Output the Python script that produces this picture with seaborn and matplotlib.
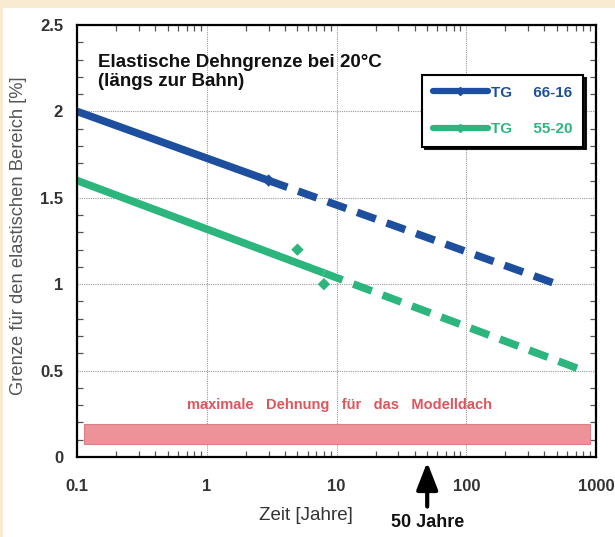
import matplotlib
matplotlib.use("Agg")
import matplotlib.pyplot as plt
import numpy as np
import pandas as pd
import seaborn as sns
from matplotlib.lines import Line2D
from matplotlib.patches import Rectangle
from matplotlib.ticker import FixedLocator, LogLocator, MultipleLocator, NullFormatter

# Values
tg66_solid_time = [0.1, 3]
tg66_solid_val = [2.0, 1.6]
tg66_dash_time = [3, 500]
tg66_dash_val = [1.6, 1.0]
tg66_mark_time = [3]
tg66_mark_val = [1.6]

tg55_solid_time = [0.1, 8]
tg55_solid_val = [1.6, 1.065]
tg55_dash_time = [8, 800]
tg55_dash_val = [1.065, 0.5]
tg55_mark_time = [5, 8]
tg55_mark_val = [1.2, 1.0]

band_time = [0.113, 900]
band_low = 0.075
band_high = 0.19

x_ticks = [0.1, 1, 10, 100, 1000]
x_tick_labels = ["0.1", "1", "10", "100", "1000"]
y_ticks = [0, 0.5, 1, 1.5, 2, 2.5]
y_tick_labels = ["0", "0.5", "1", "1.5", "2", "2.5"]

blue = "#1d4f9e"
green = "#2cb67d"
red_txt = "#e0545c"

sns.set_style("ticks")
plt.rcParams["font.family"] = ["Liberation Sans", "DejaVu Sans"]

fig = plt.figure(figsize=(6.15, 5.37), dpi=100, facecolor="#f8ebd2")
fig.patches.append(Rectangle((3 / 615, 0), 1, 1 - 8 / 537, transform=fig.transFigure,
                             facecolor="white", edgecolor="none", zorder=-10))
ax = fig.add_axes([77 / 615, 80 / 537, 519 / 615, 432 / 537])
ax.set_facecolor("white")

def seg(t, v):
    return pd.DataFrame({"Zeit": t, "Wert": v})

lw = 5.5
dash = (0, (2.6, 1.5))
sns.lineplot(data=seg(tg66_solid_time, tg66_solid_val), x="Zeit", y="Wert", color=blue,
             lw=lw, solid_capstyle="butt", ax=ax, zorder=4)
sns.lineplot(data=seg(tg66_dash_time, tg66_dash_val), x="Zeit", y="Wert", color=blue,
             lw=lw, linestyle=dash, ax=ax, zorder=4)
sns.lineplot(data=seg(tg55_solid_time, tg55_solid_val), x="Zeit", y="Wert", color=green,
             lw=lw, solid_capstyle="butt", ax=ax, zorder=4)
sns.lineplot(data=seg(tg55_dash_time, tg55_dash_val), x="Zeit", y="Wert", color=green,
             lw=lw, linestyle=dash, ax=ax, zorder=4)
sns.scatterplot(data=seg(tg66_mark_time, tg66_mark_val), x="Zeit", y="Wert", color=blue,
                marker="D", s=40, edgecolor="none", ax=ax, zorder=5)
sns.scatterplot(data=seg(tg55_mark_time, tg55_mark_val), x="Zeit", y="Wert", color=green,
                marker="D", s=40, edgecolor="none", ax=ax, zorder=5)

# band of maximum strain for the model roof
ax.fill_between(band_time, band_low, band_high, color="#ec9298", edgecolor="#d98088",
                lw=0.8, zorder=3)
ax.text(10.5, 0.30, "maximale   Dehnung   für   das   Modelldach", ha="center",
        va="center", color=red_txt, fontsize=10.5, fontweight="bold", zorder=6)

ax.text(0.040, 0.932, "Elastische Dehngrenze bei 20°C\n(längs zur Bahn)",
        transform=ax.transAxes, ha="left", va="top", fontsize=13.5,
        fontweight="bold", linespacing=1.12, color="#111111")

ax.set_xscale("log")
ax.set_xlim(0.1, 1000)
ax.set_ylim(0, 2.5)
ax.xaxis.set_major_locator(FixedLocator(x_ticks))
ax.set_xticklabels(x_tick_labels, fontsize=12, fontweight="bold", color="#333333")
ax.xaxis.set_minor_locator(LogLocator(base=10, subs=np.arange(2, 10)))
ax.xaxis.set_minor_formatter(NullFormatter())
ax.set_yticks(y_ticks)
ax.set_yticklabels(y_tick_labels, fontsize=12, fontweight="bold", color="#333333")
ax.yaxis.set_minor_locator(MultipleLocator(0.1))

ax.tick_params(which="major", length=0)
ax.tick_params(axis="y", which="major", pad=10)
ax.tick_params(axis="x", which="major", pad=16)
ax.tick_params(which="minor", direction="in", length=4, width=0.9, color="#555555",
               top=True, right=True)

ax.grid(which="major", color="#9a9a9a", lw=0.8, ls=(0, (1, 1)))
ax.grid(which="minor", visible=False)
for sp in ax.spines.values():
    sp.set_visible(True)
    sp.set_linewidth(1.6)
    sp.set_color("black")
    sp.set_zorder(7)

ax.set_xlabel("Zeit [Jahre]", fontsize=13.5, color="#333333")
ax.xaxis.set_label_coords(0.441, -0.116)
ax.set_ylabel("Grenze für den elastischen Bereich [%]", fontsize=13.2, color="#555555")
ax.yaxis.set_label_coords(-0.097, 0.512)

ax.annotate("50 Jahre", xy=(50, -0.012), xycoords=("data", "axes fraction"),
            xytext=(50, -0.132), textcoords=("data", "axes fraction"),
            ha="center", va="top", fontsize=13, fontweight="bold", color="#111111",
            arrowprops=dict(arrowstyle="-|>,head_length=1.28,head_width=0.5",
                            lw=3, color="black", shrinkA=3, shrinkB=0),
            annotation_clip=False)

handles = [
    Line2D([], [], color=blue, lw=4.5, marker="D", markersize=4),
    Line2D([], [], color=green, lw=4.5, marker="D", markersize=4),
]
leg = ax.legend(handles, ["TG     66-16", "TG     55-20"], loc="upper left",
                bbox_to_anchor=(0.665, 0.884), borderaxespad=0,
                prop={"weight": "bold", "size": 11}, labelspacing=1.45, borderpad=0.7,
                handlelength=3.6, handletextpad=0.2, fancybox=False,
                shadow={"color": "black", "alpha": 0.9}, framealpha=1,
                edgecolor="black", labelcolor=[blue, green])
leg.get_frame().set_linewidth(1.5)
leg.set_zorder(8)

fig.savefig("out.png", dpi=100, facecolor=fig.get_facecolor())
